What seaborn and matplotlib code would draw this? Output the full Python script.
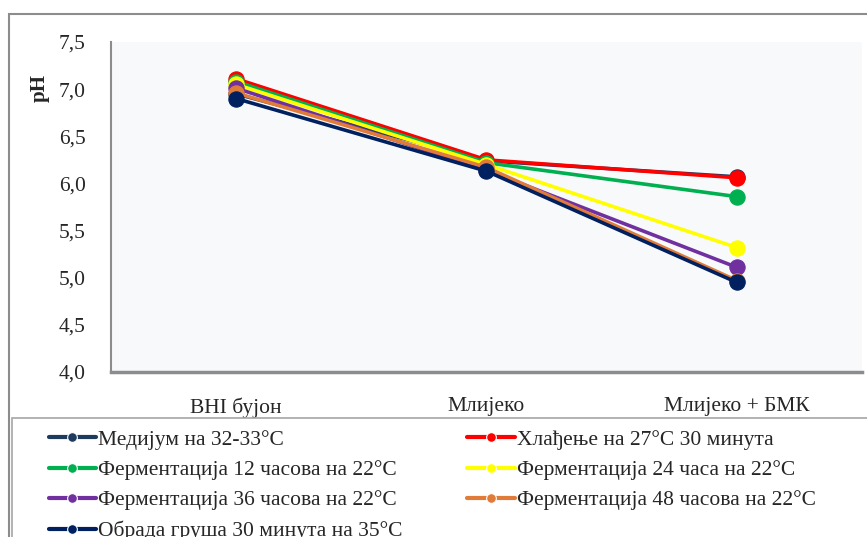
import pandas as pd
import numpy as np
import matplotlib
matplotlib.use('Agg')
import matplotlib.pyplot as plt
from matplotlib.patches import Rectangle
import seaborn as sns

# Categories and series values
categories = ['BHI бујон', 'Млијеко', 'Млијеко + БМК']
series_names = [
    'Медијум на 32-33°C',
    'Хлађење на 27°C 30 минута',
    'Ферментација 12 часова на 22°C',
    'Ферментација 24 часа на 22°C',
    'Ферментација 36 часова на 22°C',
    'Ферментација 48 часова на 22°C',
    'Обрада груша 30 минута на 35°C',
]
medium = [6.95, 6.24, 6.07]
cooling = [7.11, 6.25, 6.06]
ferm12 = [7.08, 6.22, 5.86]
ferm24 = [7.05, 6.20, 5.32]
ferm36 = [7.01, 6.14, 5.11]
ferm48 = [6.96, 6.17, 4.97]
curd = [6.90, 6.13, 4.95]
colors = ['#1F3A5F', '#FF0000', '#00B050', '#FFFF00', '#7030A0', '#E07B39', '#002060']

all_values = [medium, cooling, ferm12, ferm24, ferm36, ferm48, curd]
rows = []
for name, vals in zip(series_names, all_values):
    for i, (cat, v) in enumerate(zip(categories, vals)):
        rows.append({'series': name, 'pos': i, 'category': cat, 'pH': v})
df = pd.DataFrame(rows)

sns.set_style('white')
plt.rcParams['font.family'] = ['Liberation Serif', 'DejaVu Serif']

fig = plt.figure(figsize=(8.67, 5.37), dpi=100)
ax = fig.add_axes([111 / 867, 1 - 372 / 537, (862 - 111) / 867, (372 - 42) / 537])
ax.set_facecolor('#F8F9FB')

sns.lineplot(data=df, x='pos', y='pH', hue='series', hue_order=series_names,
             palette=colors, marker='o', markersize=11, markeredgewidth=0.8,
             linewidth=2.6, ax=ax, legend=True)

# marker edges same as line colours
for line, c in zip(ax.get_lines(), colors):
    line.set_markeredgecolor(c)

ax.set_xlim(-0.5, 2.5)
ax.set_ylim(4.0, 7.5)
yt = np.arange(4.0, 7.51, 0.5)
ax.set_yticks(yt)
ax.set_yticklabels([f'{t:.1f}'.replace('.', ',') for t in yt], fontsize=15.5)
ax.set_xticks(np.arange(-0.5, 2.51, 0.5))
ax.set_xticklabels(['' if i % 2 == 0 else categories[i // 2] for i in range(7)], fontsize=15.5)
ax.tick_params(axis='x', direction='inout', length=10, width=1.5, color='#8C8C8C', pad=13)
ax.tick_params(axis='y', length=0, pad=18)
ax.set_xlabel('')
ax.set_ylabel('')

for s in ['top', 'right']:
    ax.spines[s].set_visible(False)
ax.spines['left'].set_color('#8C8C8C')
ax.spines['left'].set_linewidth(1.5)
ax.spines['bottom'].set_color('#8C8C8C')
ax.spines['bottom'].set_linewidth(2.5)

fig.text(40 / 867, 1 - 88 / 537, 'pH', rotation=90, fontsize=15, fontweight='bold',
         ha='center', va='center')

# legend, filled row by row like the original
handles, labels = ax.get_legend_handles_labels()
ax.get_legend().remove()
order = [0, 2, 4, 6, 1, 3, 5]
leg = fig.legend([handles[i] for i in order], [labels[i] for i in order],
                 ncol=2, loc='upper left', bbox_to_anchor=(40 / 867, 1 - 421 / 537),
                 frameon=False, fontsize=15.5, handlelength=2.2, handletextpad=0.1,
                 columnspacing=3.0, labelspacing=0.48, borderaxespad=0)
for h in leg.legend_handles:
    h.set_markersize(7)
    h.set_linewidth(3)

# outer chart frame and legend frame
fig.patches.append(Rectangle((9 / 867, -0.1), 1.2, 1 - 14 / 537 + 0.1, transform=fig.transFigure,
                             fill=False, edgecolor='#8C8C8C', linewidth=1.5))
fig.patches.append(Rectangle((12 / 867, -0.1), 1.2, 1 - 418 / 537 + 0.1, transform=fig.transFigure,
                             fill=False, edgecolor='#A6A6A6', linewidth=1.2))

fig.savefig('out.png', dpi=100)
